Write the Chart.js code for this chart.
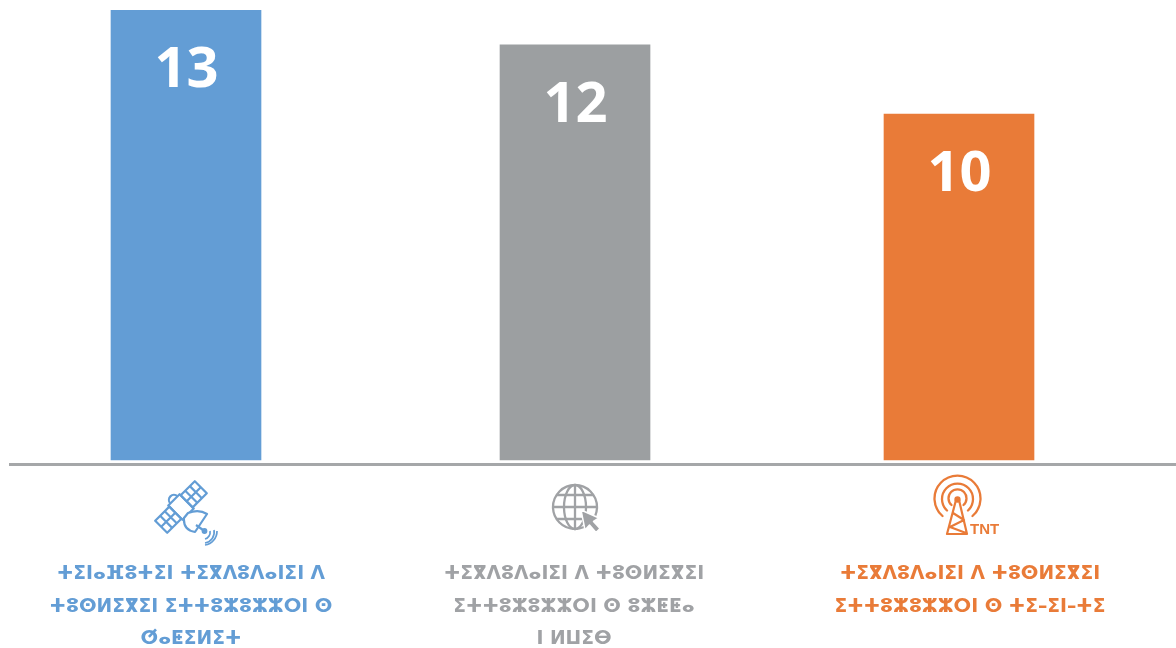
<!DOCTYPE html>
<html>
<head>
<meta charset="utf-8">
<script src="https://cdn.jsdelivr.net/npm/chart.js@4"></script>
<style>
    html, body { margin: 0; padding: 0; background: #fff; overflow: hidden; }
    #wrap { position: relative; width: 1176px; height: 648px; }
    canvas { position: absolute; left: 0; top: 0; }
    svg { position: absolute; left: 0; top: 0; pointer-events: none; }
</style>
</head>
<body>
<div id="wrap">
    <canvas id="chart" width="1176" height="648"></canvas>
    <!-- pictogrammes sous l'axe -->
    <svg width="1176" height="648" fill="none" stroke-linejoin="round">
        <g stroke="#639DD5" stroke-width="2.2">
            <g transform="rotate(-45 181 507)">
                <rect x="153" y="498.500" width="20" height="17"/>
                <path d="M153 507h20M160 498.500v17M166.500 498.500v17"/>
                <rect x="189" y="498.500" width="20" height="17"/>
                <path d="M189 507h20M195.500 498.500v17M202 498.500v17"/>
                <rect x="173" y="497" width="16" height="20"/>
                <path d="M176 497a5 5 0 0 1 10 0"/>
            </g>
            <path d="M188 513Q199 509 207 514L195 532Q183 530 184 518Z" fill="#fff"/>
            <path d="M196 525L203 530"/>
            <circle cx="204.500" cy="531" r="1.800" fill="#639DD5"/>
            <path d="M214 530a11 11 0 0 1-9 13M210 531a7 7 0 0 1-5 8" stroke-width="1.700"/>
            <path d="M217 531a14 14 0 0 1-12 14" stroke-width="1.700"/>
        </g>
        <g stroke="#A0A2A5" stroke-width="2.300">
            <circle cx="575" cy="507" r="22"/>
            <ellipse cx="575" cy="507" rx="11" ry="22"/>
            <path d="M575 485v44M553 507h44M557 495h36M557 519h36"/>
            <path d="M581 510L585 530L589.500 525L596 532.500L600 528.500L593.500 521.500L599 518Z" fill="#A0A2A5" stroke="#fff" stroke-width="1.500"/>
        </g>
        <g stroke="#E97B38" stroke-width="2.300" stroke-linecap="round">
            <path d="M942.500 516a23 23 0 1 1 30 0"/>
            <path d="M947 510.500a15.500 15.500 0 1 1 21 0"/>
            <path d="M951.500 505a9 9 0 1 1 12 0"/>
            <circle cx="957.500" cy="499.500" r="2" fill="#E97B38"/>
            <path d="M956 500L947 534H967L959 500M953 513L964 520L950 527L966 533" stroke-width="2.200"/>
        </g>
        <text x="970" y="534" font-family="Liberation Sans" font-weight="700" font-size="15" fill="#E97B38">TNT</text>
    </svg>
</div>

<script>
    // --- DONNÉES ---
    const CATEGORIES = [
        ['ⵜⵉⵏⴰⴼⵓⵜⵉⵏ ⵜⵉⴳⴷⵓⴷⴰⵏⵉⵏ ⴷ', 'ⵜⵓⵙⵍⵉⴳⵉⵏ ⵉⵜⵜⵓⵣⵓⵣⵣⵔⵏ ⵙ', 'ⵚⴰⵟⵉⵍⵉⵜ'],
        ['ⵜⵉⴳⴷⵓⴷⴰⵏⵉⵏ ⴷ ⵜⵓⵙⵍⵉⴳⵉⵏ', 'ⵉⵜⵜⵓⵣⵓⵣⵣⵔⵏ ⵙ ⵓⵣⵟⵟⴰ', 'ⵏ ⵍⵡⵉⴱ'],
        ['ⵜⵉⴳⴷⵓⴷⴰⵏⵉⵏ ⴷ ⵜⵓⵙⵍⵉⴳⵉⵏ', 'ⵉⵜⵜⵓⵣⵓⵣⵣⵔⵏ ⵙ ⵜⵉ–ⵉⵏ–ⵜⵉ']
    ];
    const VALUES = [13, 12, 10];

    // --- MISE EN PAGE ---
    const COLORS = ['#639DD5', '#9C9FA1', '#E97B38'];
    const LABEL_COLORS = ['#639DD5', '#A0A2A5', '#E97B38'];
    const BAR_SLOTS = [1, 2.0065, 3];     // les barres ne sont pas tout à fait équidistantes
    const TICK_SLOTS = [1.0129, 2.0039, 3.0285];

    // Étiquettes blanches dans les barres
    const valueLabels = {
        id: 'valueLabels',
        afterDatasetsDraw(chart) {
            const ctx = chart.ctx;
            const bars = chart.getDatasetMeta(0).data;
            ctx.save();
            ctx.fillStyle = '#fff';
            ctx.font = '700 56px "Open Sans"';
            ctx.textAlign = 'center';
            ctx.textBaseline = 'middle';
            bars.forEach((bar, i) => ctx.fillText(String(VALUES[i]), bar.x + 0.5, bar.y + 61));
            ctx.restore();
        }
    };

    new Chart(document.getElementById('chart').getContext('2d'), {
        type: 'bar',
        data: {
            datasets: [{
                data: VALUES.map((v, i) => ({ x: BAR_SLOTS[i], y: v })),
                backgroundColor: COLORS,
                borderWidth: 0,
                barThickness: 150
            }]
        },
        options: {
            responsive: false,
            animation: false,
            layout: { padding: { left: 10, right: 0, top: 0, bottom: 0 } },
            plugins: { legend: { display: false }, tooltip: { enabled: false } },
            scales: {
                x: {
                    type: 'linear',
                    offset: false,
                    min: 0.54463,
                    max: 3.56145,
                    afterBuildTicks: (axis) => { axis.ticks = TICK_SLOTS.map(value => ({ value })); },
                    afterFit: (axis) => {
                        axis.height = 183.5;
                        // sinon Chart.js réserve la demi-largeur des étiquettes de chaque côté
                        axis.paddingLeft = 0;
                        axis.paddingRight = 0;
                    },
                    grid: { display: false, drawTicks: false },
                    border: { display: true, color: '#A5A7A9', width: 3 },
                    ticks: {
                        autoSkip: false,
                        maxRotation: 0,
                        padding: 93.5,
                        color: (c) => LABEL_COLORS[c.index],
                        font: { family: '"DejaVu Sans"', weight: 'bold', size: 18.7, lineHeight: 1.74 },
                        callback: (value, i) => CATEGORIES[i]
                    }
                },
                y: {
                    display: false,
                    min: -0.13,
                    max: 13.295
                }
            }
        },
        plugins: [valueLabels]
    });
</script>
</body>
</html>
